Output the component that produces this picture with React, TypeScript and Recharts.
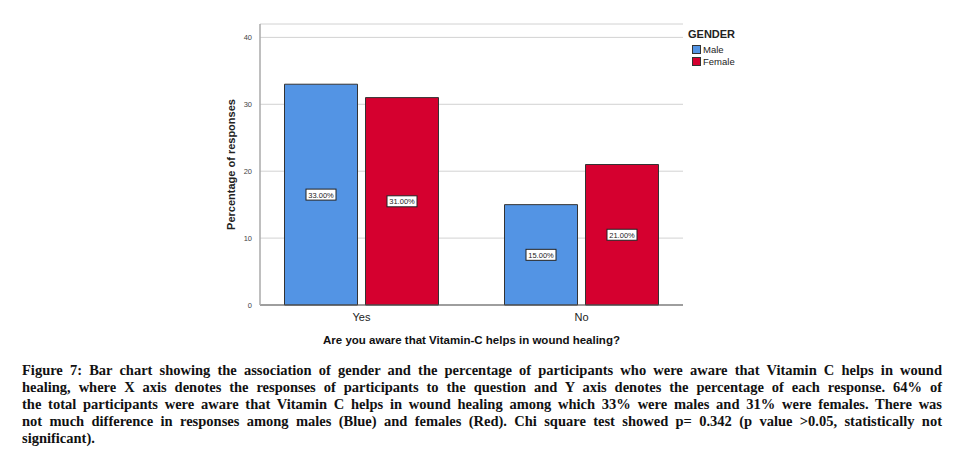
import React from 'react';
import { BarChart, Bar, XAxis, YAxis, CartesianGrid, LabelList, Label } from 'recharts';

const categories = ['Yes', 'No'];
const maleValues = [33, 15];
const femaleValues = [31, 21];
const yTicks = [0, 10, 20, 30, 40];
const seriesNames = ['Male', 'Female'];
const seriesColors = ['#5394E4', '#D5002F'];

const captionLines = [
  'Figure 7: Bar chart showing the association of gender and the percentage of participants who were aware that Vitamin C helps in wound',
  'healing, where X axis denotes the responses of participants to the question and Y axis denotes the percentage of each response. 64% of',
  'the total participants were aware that Vitamin C helps in wound healing among which 33% were males and 31% were females. There was',
  'not much difference in responses among males (Blue) and females (Red). Chi square test showed p= 0.342 (p value >0.05, statistically not',
  'significant).',
];

const data = categories.map((c, i) => ({ name: c, male: maleValues[i], female: femaleValues[i] }));

const ValueBox = (props: any) => {
  const { x, y, width, height, value } = props;
  const cx = x + width / 2;
  const cy = y + height / 2;
  const txt = `${Number(value).toFixed(2)}%`;
  const w = 30;
  const h = 11;
  return (
    <g>
      <rect x={cx - w / 2} y={cy - h / 2} width={w} height={h} fill="#ffffff" stroke="#222" strokeWidth={1} />
      <text x={cx} y={cy + 3} textAnchor="middle" fontSize={7.5} fontFamily="Liberation Sans, Arial, sans-serif" fill="#222">
        {txt}
      </text>
    </g>
  );
};

const YLabel = (props: any) => {
  const vb = props.viewBox || {};
  const x = vb.x + vb.width - 29;
  const y = vb.y + vb.height / 2;
  return (
    <text
      x={x}
      y={y}
      transform={`rotate(-90 ${x} ${y})`}
      textAnchor="middle"
      dominantBaseline="central"
      fontSize={11}
      fontWeight="bold"
      fontFamily="Liberation Sans, Arial, sans-serif"
      fill="#222"
    >
      Percentage of responses
    </text>
  );
};

const LegendBox = () => (
  <div
    style={{
      position: 'absolute',
      left: 688,
      top: 28,
      fontFamily: 'Liberation Sans, Arial, sans-serif',
      color: '#222',
    }}
  >
    <div style={{ fontWeight: 'bold', fontSize: 11, marginBottom: 3 }}>GENDER</div>
    {seriesNames.map((n, i) => (
      <div key={n} style={{ display: 'flex', alignItems: 'center', fontSize: 9.5, height: 12, marginLeft: 4 }}>
        <span
          style={{
            display: 'inline-block',
            width: 9,
            height: 9,
            background: seriesColors[i],
            border: '1px solid #333',
            boxSizing: 'border-box',
            marginRight: 2,
          }}
        />
        {n}
      </div>
    ))}
  </div>
);

export default function App() {
  return (
    <div style={{ position: 'absolute', left: 0, top: 0, width: 974, height: 463, background: '#fff' }}>
      <BarChart
        width={974}
        height={355}
        data={data}
        margin={{ top: 24, right: 291, left: 0, bottom: 5 }}
        barGap={8}
        barSize={73}
      >
        <CartesianGrid vertical={false} stroke="#d2d2d2" strokeWidth={1} />
        <XAxis
          dataKey="name"
          height={45}
          padding={{ left: -8.5, right: -8.5 }}
          tickLine={false}
          axisLine={{ stroke: '#555', strokeWidth: 1.2 }}
          tick={{ fontSize: 11, fill: '#222', fontFamily: 'Liberation Sans, Arial, sans-serif' }}
          tickMargin={2}
        >
          <Label
            value="Are you aware that Vitamin-C helps in wound healing?"
            position="insideBottom"
            offset={6}
            style={{ fontSize: 11.5, fontWeight: 'bold', fill: '#111', fontFamily: 'Liberation Sans, Arial, sans-serif' }}
          />
        </XAxis>
        <YAxis
          width={260}
          domain={[0, 42]}
          ticks={yTicks}
          tickLine={false}
          axisLine={{ stroke: '#aaa', strokeWidth: 1.5 }}
          tick={{ fontSize: 7.5, fill: '#444', fontFamily: 'Liberation Sans, Arial, sans-serif' }}
          label={<YLabel />}
        />
        <Bar dataKey="male" name="Male" fill={seriesColors[0]} stroke="#333" strokeWidth={1} isAnimationActive={false}>
          <LabelList dataKey="male" content={<ValueBox />} />
        </Bar>
        <Bar dataKey="female" name="Female" fill={seriesColors[1]} stroke="#333" strokeWidth={1} isAnimationActive={false}>
          <LabelList dataKey="female" content={<ValueBox />} />
        </Bar>
      </BarChart>
      <LegendBox />
      <div
        style={{
          position: 'absolute',
          left: 22,
          top: 362,
          width: 920,
          fontFamily: '"Liberation Serif", "Times New Roman", serif',
          fontWeight: 'bold',
          fontSize: 14.5,
          lineHeight: '17px',
          color: '#111',
        }}
      >
        {captionLines.map((l, i) => (
          <div
            key={i}
            style={{
              textAlign: i < captionLines.length - 1 ? 'justify' : 'left',
              textAlignLast: i < captionLines.length - 1 ? 'justify' : 'left',
              whiteSpace: 'nowrap',
            }}
          >
            {l}
          </div>
        ))}
      </div>
    </div>
  );
}
